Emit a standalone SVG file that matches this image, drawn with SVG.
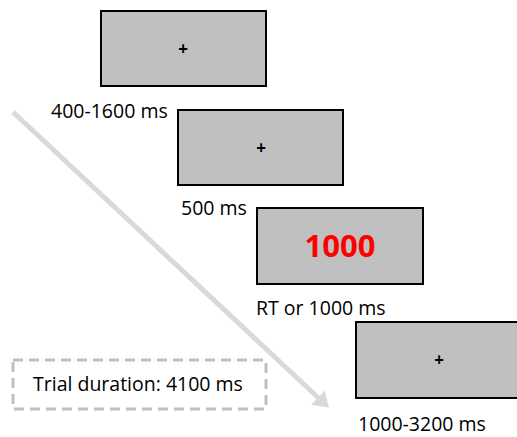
<svg xmlns="http://www.w3.org/2000/svg" width="517" height="437" viewBox="0 0 517 437">
<style>
.box{fill:#c0c0c0;stroke:#000;stroke-width:2}
.lbl{font-family:"Open Sans","Noto Sans",sans-serif;font-size:19.5px;fill:#000}
.plus{font-family:"Open Sans","Noto Sans",sans-serif;font-size:17px;font-weight:bold;fill:#000;text-anchor:middle}
.big{font-family:"Open Sans","Noto Sans",sans-serif;font-size:31px;font-weight:bold;fill:#ff0000;text-anchor:middle}
</style>
<defs>
<marker id="ah" markerWidth="4" markerHeight="4" refX="2.2" refY="2" orient="auto" markerUnits="strokeWidth">
<path d="M0,0 L3,2 L0,4 z" fill="#d9d9d9"/>
</marker>
</defs>
<rect width="517" height="437" fill="#fff"/>
<g id="connectors">
<line x1="13" y1="112" x2="326" y2="405" stroke="#d9d9d9" stroke-width="5" marker-end="url(#ah)"/>
</g>
<g id="fixation1">
<rect class="box" x="101" y="11" width="165" height="75"/>
<text class="plus" x="183" y="55">+</text>
<text class="lbl" x="51" y="118">400-1600 ms</text>
</g>
<g id="fixation2">
<rect class="box" x="178" y="110" width="165" height="75"/>
<text class="plus" x="261" y="154">+</text>
<text class="lbl" x="181" y="215">500 ms</text>
</g>
<g id="target">
<rect class="box" x="257" y="208" width="166" height="76"/>
<text class="big" x="340" y="257">1000</text>
<text class="lbl" x="256" y="315">RT or 1000 ms</text>
</g>
<g id="fixation3">
<rect class="box" x="356" y="322" width="166" height="76"/>
<text class="plus" x="439" y="366">+</text>
<text class="lbl" x="358" y="431">1000-3200 ms</text>
</g>
<g id="duration">
<rect x="13" y="360" width="253" height="49" fill="none" stroke="#bfbfbf" stroke-width="3" stroke-dasharray="10,6"/>
<text class="lbl" x="33" y="391">Trial duration: 4100 ms</text>
</g>
</svg>
